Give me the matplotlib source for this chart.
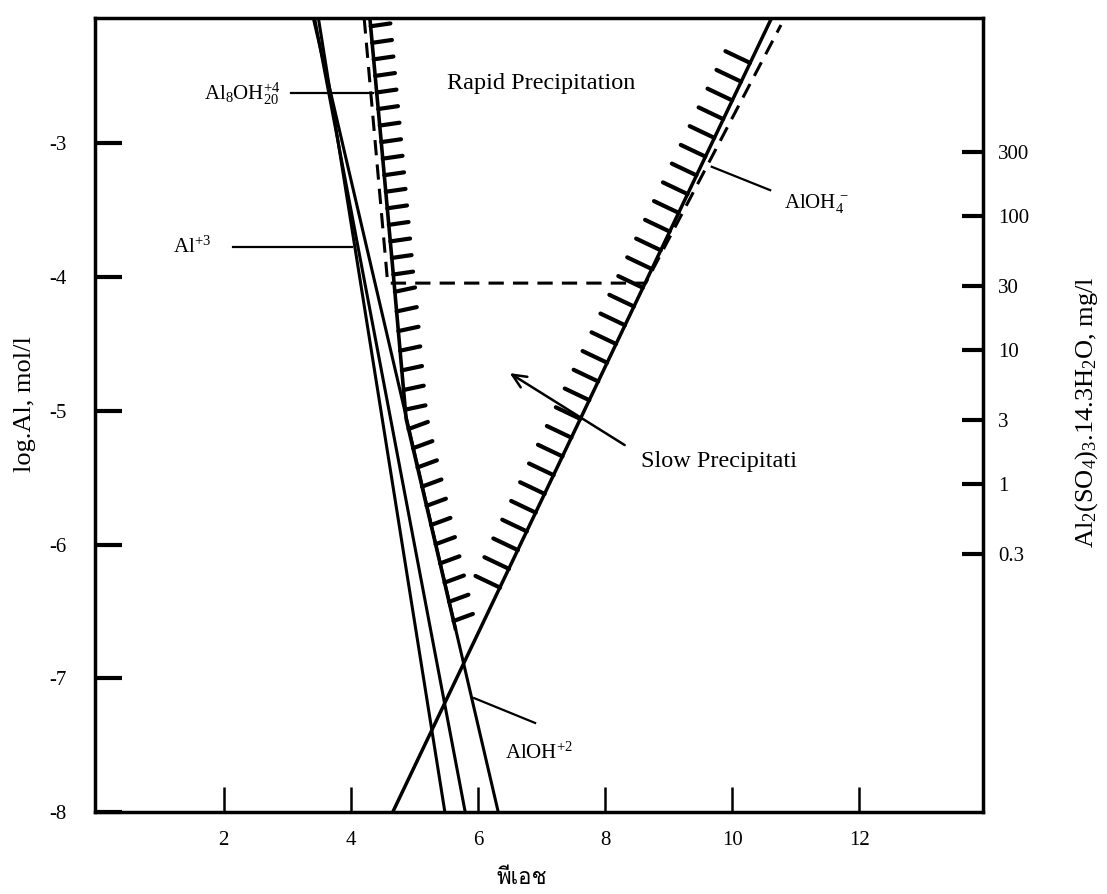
import matplotlib
matplotlib.use("Agg")
import matplotlib.pyplot as plt
from matplotlib import font_manager, ft2font
from matplotlib import patheffects as pe
from matplotlib.ticker import FixedLocator, FixedFormatter, NullLocator

# axes as printed on the scan
PH_RANGE = (-0.02, 13.95)
LOG_AL_RANGE = (-8.0, -2.065)
PH_TICKS = [2, 4, 6, 8, 10, 12]
LOG_AL_TICKS = [-3, -4, -5, -6, -7, -8]
MG_TICKS = [300, 100, 30, 10, 3, 1, 0.3]
MG_TICK_LABELS = ["300", "100", "30", "10", "3", "1", "0.3"]
MG_OFFSET = 5.545  # log10(mg/l alum) - log10(mol/l Al) for the right-hand scale

# species lines (pH, log Al)
AL3_PH = [3.49, 5.48]
AL3_LOG = [-2.065, -8.0]
AL8_PH = [3.43, 5.80]
AL8_LOG = [-2.065, -8.0]
ALOH2_PH = [3.41, 6.32]
ALOH2_LOG = [-2.065, -8.0]
ALOH4_PH = [4.66, 10.62]
ALOH4_LOG = [-8.0, -2.065]

# dashed envelope
DASH_PH = [4.21, 4.58, 8.64, 10.77]
DASH_LOG = [-2.065, -4.045, -4.045, -2.115]

# hatched boundaries of the rapid precipitation zone
RAPID_L_PH = [4.30, 4.49, 4.68, 4.87, 5.32, 5.65]
RAPID_L_LOG = [-2.065, -3.05, -4.04, -5.06, -5.97, -6.64]
RAPID_R_PH = [6.28, 10.35]
RAPID_R_LOG = [-6.39, -2.33]

# labels and their leader lines
AL8_LABEL = (2.89, -2.676)
AL8_LEADER_PH = [3.056, 4.349]
AL8_LEADER_LOG = [-2.624, -2.624]
AL3_LABEL = (1.207, -3.822)
AL3_LEADER_PH = [2.143, 4.024]
AL3_LEADER_LOG = [-3.773, -3.773]
ALOH4_LABEL = (10.825, -3.484)
ALOH4_LEADER_PH = [10.60, 9.68]
ALOH4_LEADER_LOG = [-3.35, -3.175]
ALOH2_LABEL = (6.425, -7.60)
ALOH2_LEADER_PH = [5.94, 6.90]
ALOH2_LEADER_LOG = [-7.148, -7.334]
RAPID_LABEL = (6.99, -2.549)
SLOW_LABEL = (8.56, -5.381)
SLOW_ARROW_TAIL = (8.31, -5.256)
SLOW_ARROW_HEAD = (6.50, -4.718)

SERIF = "Liberation Serif"


def thai_font():
    # first installed family that has the Thai letter pho phan
    for f in font_manager.fontManager.ttflist:
        try:
            if 0x0E1E in ft2font.FT2Font(f.fname).get_charmap():
                return f.name
        except Exception:
            continue
    return "DejaVu Sans"


plt.rcParams["font.family"] = SERIF
plt.rcParams["axes.unicode_minus"] = False
plt.rcParams["mathtext.fontset"] = "custom"
plt.rcParams["mathtext.rm"] = SERIF
plt.rcParams["mathtext.it"] = SERIF + ":italic"

fig = plt.figure(figsize=(11.07, 8.94), dpi=100)
ax = fig.add_axes([0.0862, 0.0917, 0.8018, 0.8878])
ax.set_xlim(*PH_RANGE)
ax.set_ylim(*LOG_AL_RANGE)

for s in ax.spines.values():
    s.set_linewidth(2.5)

ax.set_xticks(PH_TICKS)
ax.set_xticklabels([str(t) for t in PH_TICKS])
ax.set_yticks(LOG_AL_TICKS)
ax.set_yticklabels([str(t) for t in LOG_AL_TICKS])
ax.tick_params(axis="y", direction="in", length=19.5, width=3, pad=21, labelsize=15)
ax.tick_params(axis="x", direction="in", length=18, width=1.8, pad=14, labelsize=15)

# right-hand alum dose scale
ax2 = ax.twinx()
ax2.set_yscale("log")
ax2.set_ylim(10 ** (LOG_AL_RANGE[0] + MG_OFFSET), 10 ** (LOG_AL_RANGE[1] + MG_OFFSET))
ax2.yaxis.set_major_locator(FixedLocator(MG_TICKS))
ax2.yaxis.set_major_formatter(FixedFormatter(MG_TICK_LABELS))
ax2.yaxis.set_minor_locator(NullLocator())
ax2.tick_params(axis="y", direction="in", length=15, width=3, pad=11, labelsize=15)
for s in ax2.spines.values():
    s.set_visible(False)

line_kw = dict(color="black", solid_capstyle="butt")
ax.plot(AL3_PH, AL3_LOG, lw=2.2, **line_kw)
ax.plot(AL8_PH, AL8_LOG, lw=2.2, **line_kw)
ax.plot(ALOH2_PH, ALOH2_LOG, lw=2.2, **line_kw)
ax.plot(ALOH4_PH, ALOH4_LOG, lw=2.5, **line_kw)
ax.plot(DASH_PH, DASH_LOG, color="black", lw=2.2, dashes=(5, 3))

# hatched boundaries: the line itself, then the ticks
ax.plot(RAPID_L_PH, RAPID_L_LOG, lw=2.6, **line_kw)
ax.plot(RAPID_L_PH[:3], RAPID_L_LOG[:3], color="black", lw=3.0, solid_capstyle="round",
        path_effects=[pe.TickedStroke(spacing=11.5, angle=93, length=1.25)])
ax.plot(RAPID_L_PH[2:], RAPID_L_LOG[2:], color="black", lw=3.0, solid_capstyle="round",
        path_effects=[pe.TickedStroke(spacing=13.5, angle=97, length=1.1)])
ax.plot(RAPID_R_PH, RAPID_R_LOG, color="black", lw=3.0, solid_capstyle="round",
        path_effects=[pe.TickedStroke(spacing=14.5, angle=90, length=1.35)])

# species labels
ax.plot(AL8_LEADER_PH, AL8_LEADER_LOG, color="black", lw=1.6)
ax.text(*AL8_LABEL, r"Al$_\mathrm{8}$OH$_\mathrm{20}^\mathrm{+4}$", fontsize=15,
        ha="right", va="baseline")
ax.plot(AL3_LEADER_PH, AL3_LEADER_LOG, color="black", lw=1.6)
ax.text(*AL3_LABEL, r"Al$^\mathrm{+3}$", fontsize=15, ha="left", va="baseline")
ax.plot(ALOH4_LEADER_PH, ALOH4_LEADER_LOG, color="black", lw=1.6)
ax.text(*ALOH4_LABEL, r"AlOH$_\mathrm{4}^{\,-}$", fontsize=15, ha="left", va="baseline")
ax.plot(ALOH2_LEADER_PH, ALOH2_LEADER_LOG, color="black", lw=1.6)
ax.text(*ALOH2_LABEL, r"AlOH$^\mathrm{+2}$", fontsize=15, ha="left", va="baseline")

ax.text(*RAPID_LABEL, "Rapid Precipitation", fontsize=17.5, ha="center", va="center")
ax.text(*SLOW_LABEL, "Slow Precipitati", fontsize=17.5, ha="left", va="center")
ax.annotate("", xy=SLOW_ARROW_HEAD, xytext=SLOW_ARROW_TAIL,
            arrowprops=dict(arrowstyle="->,head_length=1.0,head_width=0.45",
                            color="black", lw=1.8, shrinkA=0, shrinkB=0))

# axis titles
fig.text(25 / 1107, 1 - 404 / 894, "log.Al, mol/l", rotation=90,
         ha="center", va="center", fontsize=19)
fig.text(1087 / 1107, 1 - 412 / 894,
         r"Al$_\mathrm{2}$(SO$_\mathrm{4}$)$_\mathrm{3}$.14.3H$_\mathrm{2}$O, mg/l",
         rotation=90, ha="center", va="center", fontsize=19)
fig.text(522 / 1107, 1 - 878 / 894, "พีเอช", ha="center", va="center", fontsize=16,
         family=[thai_font(), "DejaVu Sans"])

fig.savefig("out.png", dpi=100)
